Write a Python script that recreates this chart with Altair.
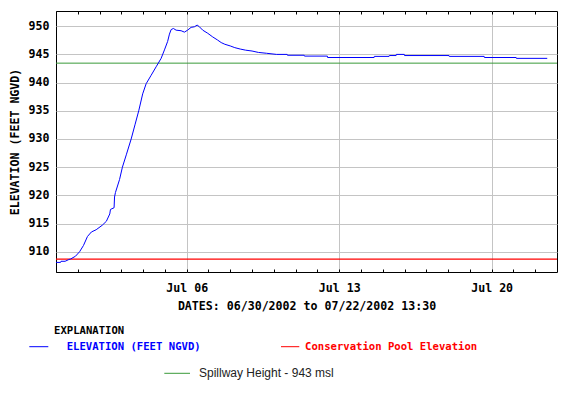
import altair as alt
import pandas as pd

# ---- data ----
times = [
    "2002-06-30T00:00", "2002-06-30T05:00", "2002-06-30T05:30", "2002-06-30T10:00",
    "2002-06-30T14:00", "2002-06-30T16:00", "2002-06-30T21:30", "2002-07-01T02:00",
    "2002-07-01T06:15", "2002-07-01T10:40", "2002-07-01T15:00", "2002-07-01T20:15",
    "2002-07-02T03:00", "2002-07-02T07:30", "2002-07-02T11:15", "2002-07-02T12:00",
    "2002-07-02T16:00", "2002-07-02T16:30", "2002-07-02T17:30", "2002-07-02T22:00",
    "2002-07-03T01:10", "2002-07-03T05:40", "2002-07-03T10:50", "2002-07-03T15:00",
    "2002-07-03T19:10", "2002-07-03T23:30", "2002-07-04T03:20", "2002-07-04T08:50",
    "2002-07-04T14:20", "2002-07-04T19:50", "2002-07-04T23:30", "2002-07-05T03:00",
    "2002-07-05T05:00", "2002-07-05T06:50", "2002-07-05T09:20", "2002-07-05T12:20",
    "2002-07-05T17:50", "2002-07-05T21:30", "2002-07-06T01:00", "2002-07-06T04:50",
    "2002-07-06T08:30", "2002-07-06T11:30", "2002-07-06T14:00", "2002-07-06T17:40",
    "2002-07-06T23:10", "2002-07-07T04:40", "2002-07-07T10:00", "2002-07-07T14:00",
    "2002-07-07T18:00", "2002-07-08T00:00", "2002-07-08T05:00", "2002-07-08T11:00",
    "2002-07-08T17:00", "2002-07-09T00:00", "2002-07-09T07:00", "2002-07-09T16:00",
    "2002-07-10T03:00", "2002-07-10T14:45", "2002-07-10T15:00", "2002-07-11T09:30",
    "2002-07-11T09:45", "2002-07-12T11:00", "2002-07-12T11:15", "2002-07-14T14:30",
    "2002-07-14T14:45", "2002-07-15T07:00", "2002-07-15T07:15", "2002-07-15T14:45",
    "2002-07-15T15:00", "2002-07-15T23:45", "2002-07-16T00:00", "2002-07-18T01:00",
    "2002-07-18T01:15", "2002-07-19T15:45", "2002-07-19T16:00", "2002-07-21T03:00",
    "2002-07-21T03:15", "2002-07-22T13:15",
]
elevation = [
    908.1, 908.1, 908.3, 908.3,
    908.6, 908.7, 909.2, 910.0,
    911.1, 912.7, 913.5, 913.9,
    914.7, 915.4, 916.7, 917.5,
    917.8, 919.7, 920.5, 922.8,
    925.0, 927.3, 930.0, 932.5,
    935.0, 938.0, 939.8, 941.3,
    942.8, 944.3, 945.8, 947.3,
    948.6, 949.4, 949.6, 949.3,
    949.2, 948.95, 949.3, 949.8,
    949.9, 950.2, 949.9, 949.3,
    948.75, 948.1, 947.55, 947.1,
    946.8, 946.5, 946.2, 945.95,
    945.75, 945.6, 945.35, 945.2,
    945.0, 945.0, 944.85, 944.85,
    944.7, 944.7, 944.45, 944.45,
    944.65, 944.65, 944.8, 944.8,
    945.0, 945.0, 944.8, 944.8,
    944.65, 944.65, 944.45, 944.45,
    944.3, 944.3,
]
spillway = [943.45]
conservation_pool = [908.7]
y_ticks = [910, 915, 920, 925, 930, 935, 940, 945, 950]
labeled_days = [6, 13, 20]          # July
minor_days_june = [30]
minor_days_july = list(range(1, 23))

df = pd.DataFrame({"time": times, "elev": elevation})

MONO = "DejaVu Sans Mono"
x_scale = alt.Scale(domain=[alt.DateTime(year=2002, month=6, date=30),
                            alt.DateTime(year=2002, month=7, date=23)], nice=False)
y_scale = alt.Scale(domain=[906.4, 952.7], nice=False, zero=False)

line = alt.Chart(df).mark_line(color="#0000ff", strokeWidth=1).encode(
    x=alt.X("time:T", scale=x_scale,
            axis=alt.Axis(values=[alt.DateTime(year=2002, month=7, date=d) for d in labeled_days],
                          format="%b %d", grid=True, gridColor="#c4c4c4", gridWidth=1,
                          ticks=False, domain=False, labelPadding=10,
                          labelFont=MONO, labelFontWeight="bold", labelFontSize=11.6,
                          labelColor="black",
                          title="DATES: 06/30/2002 to 07/22/2002 13:30",
                          titleFont=MONO, titleFontWeight="bold", titleFontSize=11.6,
                          titleColor="black", titlePadding=7)),
    y=alt.Y("elev:Q", scale=y_scale,
            axis=alt.Axis(values=y_ticks, grid=True, gridColor="#c4c4c4", gridWidth=1,
                          ticks=False, domain=False, labelPadding=7,
                          labelFont=MONO, labelFontWeight="bold", labelFontSize=11.6,
                          labelColor="black",
                          title="ELEVATION (FEET NGVD)",
                          titleFont=MONO, titleFontWeight="bold", titleFontSize=11.6,
                          titleColor="black", titleX=-41, titleY=130.5,
                          titleAngle=270, titleAlign="center", titleBaseline="middle")),
)

minor_vals = ([alt.DateTime(year=2002, month=6, date=d) for d in minor_days_june] +
              [alt.DateTime(year=2002, month=7, date=d) for d in minor_days_july])

ticks_bottom = alt.Chart(df).mark_point(opacity=0).encode(
    x=alt.X("time:T", scale=x_scale,
            axis=alt.Axis(orient="bottom", values=minor_vals, offset=-3, tickSize=3,
                          tickColor="black", domain=False, labels=False, grid=False,
                          title=None)),
)
ticks_top = alt.Chart(df).mark_point(opacity=0).encode(
    x=alt.X("time:T", scale=x_scale,
            axis=alt.Axis(orient="top", values=minor_vals, offset=-3, tickSize=3,
                          tickColor="black", domain=False, labels=False, grid=False,
                          title=None)),
)

spill = alt.Chart(pd.DataFrame({"elev": spillway})).mark_rule(
    color="#3a9a3a", strokeWidth=1).encode(y=alt.Y("elev:Q", scale=y_scale, axis=None))
pool = alt.Chart(pd.DataFrame({"elev": conservation_pool})).mark_rule(
    color="#ff0000", strokeWidth=1.2).encode(y=alt.Y("elev:Q", scale=y_scale, axis=None))

one = pd.DataFrame({"a": [0]})

def txt(label, x, y, color="black", font=MONO, size=10.6, weight="bold"):
    return alt.Chart(one).mark_text(text=label, align="left", baseline="middle",
                                    font=font, fontSize=size, fontWeight=weight,
                                    color=color).encode(x=alt.value(x), y=alt.value(y))

def seg(x1, x2, y, color):
    return alt.Chart(one).mark_rule(color=color, strokeWidth=1).encode(
        x=alt.value(x1), x2=alt.value(x2), y=alt.value(y))

legend = [
    txt("EXPLANATION", -2, 320),
    seg(-26.7, -7.7, 335.7, "#0000ff"),
    txt("ELEVATION (FEET NGVD)", 10.7, 335.7, color="#0000ff"),
    seg(225, 243.3, 335.7, "#ff0000"),
    txt("Conservation Pool Elevation", 249, 335.7, color="#ff0000"),
    seg(108.3, 134, 362.3, "#3a9a3a"),
    txt("Spillway Height - 943 msl", 143, 362.3, color="#222222",
        font="Liberation Sans", size=12, weight="normal"),
]

chart = alt.layer(pool, spill, line, ticks_bottom, ticks_top, *legend).resolve_axis(
    x="independent", y="independent"
).properties(
    width=501, height=261, autosize="none",
    padding={"left": 48, "top": 3, "right": 6, "bottom": 122},
    background="white",
).configure_view(stroke="black", strokeWidth=1)

chart.save("out.html", embed_options={"renderer": "svg", "actions": False})
